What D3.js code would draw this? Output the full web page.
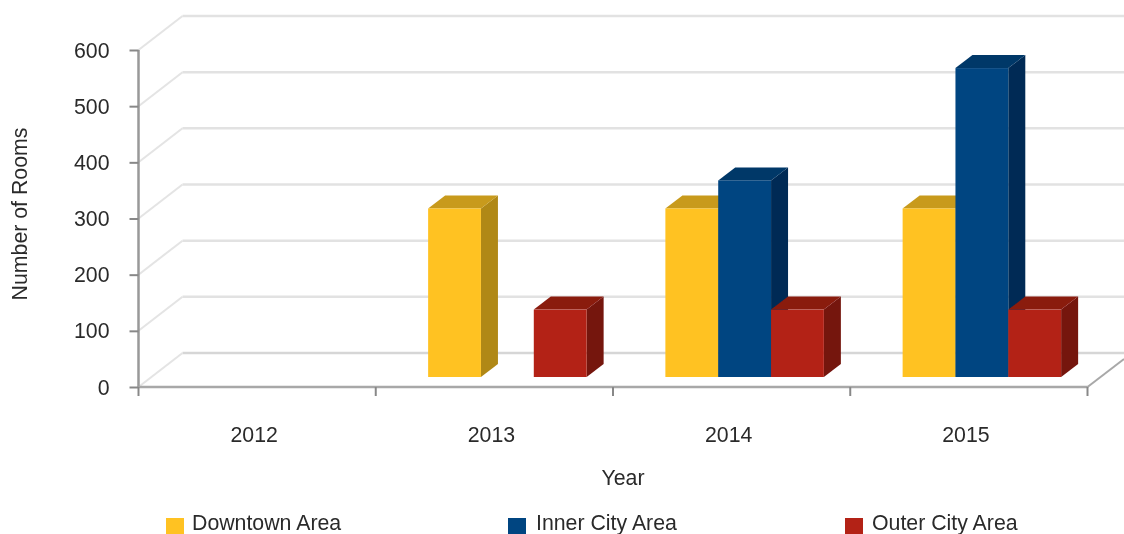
<!DOCTYPE html>
<html><head><meta charset="utf-8">
<script src="https://cdn.jsdelivr.net/npm/d3@7"></script>
<style>
html,body{margin:0;padding:0;background:#fff}
svg{display:block}
text{font-family:"Liberation Sans",Arial,sans-serif;font-size:21.3px;fill:#2a2a2a}
</style></head><body>
<svg id="c" width="1124" height="534"></svg>
<script>
const years = ["2012","2013","2014","2015"];
const seriesNames = ["Downtown Area","Inner City Area","Outer City Area"];
const downtown = [null,300,300,300];
const innerCity = [null,null,350,550];
const outerCity = [null,120,120,120];
const yTicks = [0,100,200,300,400,500,600];
const frontColors = ["#FFC222","#004481","#B32317"];
const topColors = ["#C89A1A","#003768","#8A1A10"];
const sideColors = ["#B08818","#002C55","#74140D"];
const legendX = [166,508,845];
const legendTextX = [192,536,872];

const svg = d3.select("#c");
svg.append("defs").append("filter").attr("id","soft")
  .attr("filterUnits","userSpaceOnUse").attr("x",0).attr("y",0).attr("width",1124).attr("height",534)
  .append("feGaussianBlur").attr("stdDeviation",0.6);
const root = svg.append("g").attr("filter","url(#soft)");
root.append("rect").attr("width",1124).attr("height",534).attr("fill","#fff");

const x = d3.scaleBand().domain(years).range([138.5,1087.5]);
const y = d3.scaleLinear().domain([0,600]).range([387,50]);
const wallDx = 44, wallDy = -34;
const barOffX = 13, barOffY = -10, barDx = 17, barDy = -13;
const inner = d3.scaleBand().domain(seriesNames).range([0,158.5]);
const groupStart = d => x(d) + (x.bandwidth()-inner.range()[1])/2 + barOffX;

// walls
const grid = root.append("g");
yTicks.forEach(v=>{
  grid.append("line").attr("x1",x.range()[0]+wallDx).attr("x2",1124)
    .attr("y1",y(v)+wallDy).attr("y2",y(v)+wallDy)
    .attr("stroke",v===0?"#d6d6d6":"#e2e2e2").attr("stroke-width",2.5);
  grid.append("line").attr("x1",x.range()[0]).attr("y1",y(v))
    .attr("x2",x.range()[0]+wallDx).attr("y2",y(v)+wallDy)
    .attr("stroke","#e4e4e4").attr("stroke-width",2);
});
// right floor edge
root.append("line").attr("x1",x.range()[1]).attr("y1",y(0))
  .attr("x2",1124).attr("y2",y(0)-28).attr("stroke","#a8a8a8").attr("stroke-width",2);

// bars
const h0 = y(0)+barOffY;
const barHeight = v => y(0)-y(v);
[downtown,innerCity,outerCity].forEach((vals,si)=>{
  const g = root.append("g");
  const name = seriesNames[si];
  const data = years.map((yr,i)=>({yr,v:vals[i]})).filter(d=>d.v!==null);
  const L = d=>groupStart(d.yr)+inner(name);
  const R = d=>L(d)+inner.bandwidth();
  const T = d=>h0-barHeight(d.v);
  g.selectAll(".side").data(data).join("path")
    .attr("fill",sideColors[si])
    .attr("d",d=>`M${R(d)},${T(d)}L${R(d)+barDx},${T(d)+barDy}L${R(d)+barDx},${h0+barDy}L${R(d)},${h0}Z`);
  g.selectAll(".top").data(data).join("path")
    .attr("fill",topColors[si])
    .attr("d",d=>`M${L(d)},${T(d)}L${L(d)+barDx},${T(d)+barDy}L${R(d)+barDx},${T(d)+barDy}L${R(d)},${T(d)}Z`);
  g.selectAll(".front").data(data).join("rect")
    .attr("fill",frontColors[si])
    .attr("x",L).attr("y",T).attr("width",inner.bandwidth()).attr("height",d=>barHeight(d.v));
});

// y axis
const yAxis = root.append("g").attr("transform",`translate(${x.range()[0]},0)`)
  .call(d3.axisLeft(y).tickValues(yTicks).tickSize(9).tickPadding(20).tickFormat(d3.format("d")));
yAxis.selectAll("path").attr("d",`M0,${y(600)}V${y(0)}`).attr("stroke","#999").attr("stroke-width",2.5).attr("fill","none");
yAxis.selectAll("line").attr("stroke","#888").attr("stroke-width",2);
yAxis.selectAll("text").attr("fill","#2a2a2a").attr("font-family",null).attr("font-size",null).attr("x",-29).attr("dy","0.33em");

// x axis
const xAxis = root.append("g").attr("transform",`translate(0,${y(0)})`)
  .call(d3.axisBottom(x).tickSize(0).tickPadding(0));
xAxis.selectAll("path").attr("d",`M${x.range()[0]},0H${x.range()[1]}`).attr("stroke","#a8a8a8").attr("stroke-width",2.5).attr("fill","none");
xAxis.selectAll("text").attr("fill","#2a2a2a").attr("font-family",null).attr("font-size",null)
  .attr("x",-3).attr("y",55).attr("dy",0);
[...years.map(d=>x(d)),x.range()[1]].forEach(px=>{
  xAxis.append("line").attr("x1",px).attr("x2",px).attr("y1",0).attr("y2",9).attr("stroke","#888").attr("stroke-width",2);
});

// titles
root.append("text").attr("x",623).attr("y",485).attr("text-anchor","middle").text("Year");
root.append("text").attr("transform","translate(27,214) rotate(-90)").attr("text-anchor","middle").text("Number of Rooms");

// legend
seriesNames.forEach((n,i)=>{
  root.append("rect").attr("x",legendX[i]).attr("y",518).attr("width",18).attr("height",16).attr("fill",frontColors[i]);
  root.append("text").attr("x",legendTextX[i]).attr("y",530).text(n);
});
</script>
</body></html>
